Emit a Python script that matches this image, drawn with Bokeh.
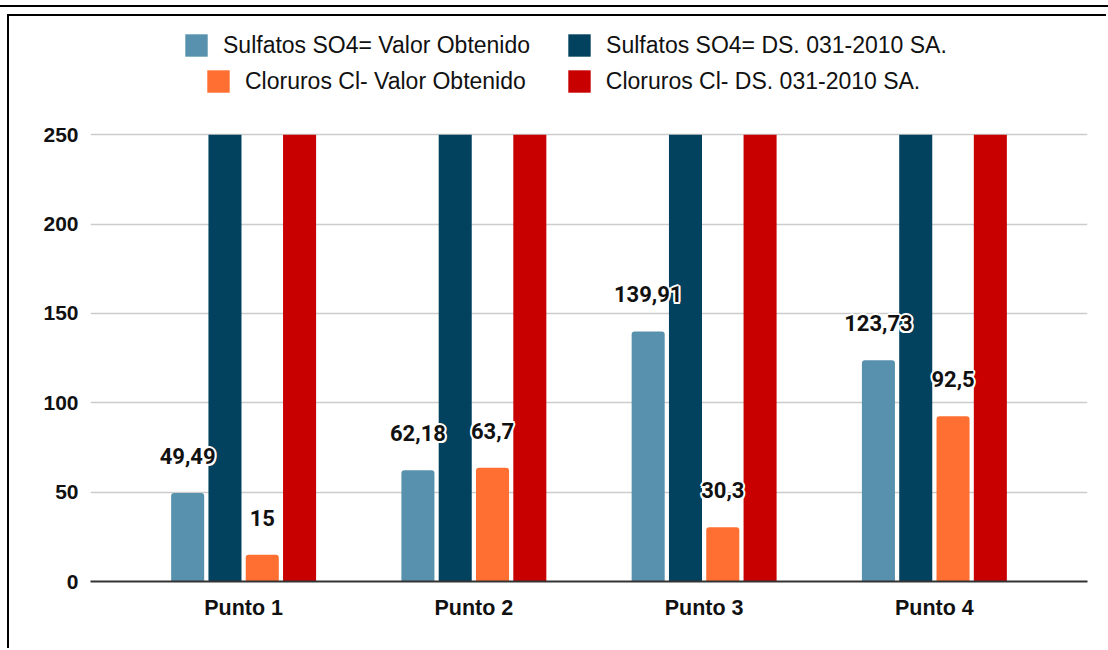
from bokeh.plotting import figure
from bokeh.models import ColumnDataSource, Range1d, Legend, LegendItem, FixedTicker
from bokeh.transform import dodge
from bokeh.core.properties import value
from bokeh.embed import file_html
from bokeh.resources import INLINE

# ---- data ----
categories = ["Punto 1", "Punto 2", "Punto 3", "Punto 4"]
sulfatos_obtenido = [49.49, 62.18, 139.91, 123.73]
sulfatos_ds = [250, 250, 250, 250]
cloruros_obtenido = [15, 63.7, 30.3, 92.5]
cloruros_ds = [250, 250, 250, 250]
series_names = ["Sulfatos SO4= Valor Obtenido", "Sulfatos SO4= DS. 031-2010 SA.",
                "Cloruros Cl- Valor Obtenido", "Cloruros Cl- DS. 031-2010 SA."]
colors = ["#5891ad", "#03425f", "#ff6f31", "#c80000"]
y_ticks = [0, 50, 100, 150, 200, 250]


def fmt(v):
    return f"{v:g}".replace(".", ",")


xs = list(range(len(categories)))
src = ColumnDataSource(dict(
    x=xs,
    s_obt=sulfatos_obtenido, s_ds=sulfatos_ds,
    c_obt=cloruros_obtenido, c_ds=cloruros_ds,
    s_lab=[fmt(v) for v in sulfatos_obtenido],
    c_lab=[fmt(v) for v in cloruros_obtenido],
))

# frame extends above 250 to leave room for the legend rows
p = figure(width=1099, height=634, output_backend="svg", toolbar_location=None,
           x_range=Range1d(-0.665, 3.665), y_range=Range1d(0, 315),
           min_border_left=81, min_border_right=21, min_border_top=2,
           min_border_bottom=69)
p.margin = (14, 0, 0, 7)
p.styles = {"border-top": "2px solid #000", "border-left": "2px solid #000",
            "box-shadow": "0 1px 0 8px #fff, 0 -1px 0 8px #000"}
p.outline_line_color = None
p.background_fill_color = "white"
p.border_fill_color = "white"

pitch = 0.162
bw = 0.1435
fields = ["s_obt", "s_ds", "c_obt", "c_ds"]
offsets = [-1.5 * pitch, -0.5 * pitch, 0.5 * pitch, 1.5 * pitch]
radius = [(3, 3, 0, 0), 0, (3, 3, 0, 0), 0]
renderers = []
for f, off, col, rad in zip(fields, offsets, colors, radius):
    r = p.vbar(x=dodge("x", off, range=p.x_range), top=f, width=bw, source=src,
               fill_color=col, line_color=None, border_radius=rad)
    renderers.append(r)

# data labels: white halo (shifted copies) + dark text
halo = [(-2, 0), (2, 0), (0, -2), (0, 2), (-1.5, -1.5), (1.5, -1.5), (-1.5, 1.5), (1.5, 1.5)]
label_kw = dict(text_font=value("Roboto"), text_font_style="bold", text_font_size="22px",
                text_align="center", text_baseline="middle")
for lab, f, off in [("s_lab", "s_obt", offsets[0]), ("c_lab", "c_obt", offsets[2])]:
    for dx, dy in halo:
        p.text(x=dodge("x", off, range=p.x_range), y=f, text=lab, source=src,
               text_color="white", x_offset=dx, y_offset=-37 + dy, **label_kw)
    p.text(x=dodge("x", off, range=p.x_range), y=f, text=lab, source=src,
           text_color="#111111", y_offset=-37, **label_kw)

# axes
p.xaxis.ticker = FixedTicker(ticks=xs)
p.xaxis.major_label_overrides = {i: c for i, c in enumerate(categories)}
p.xaxis.major_tick_line_color = None
p.xaxis.major_tick_out = 0
p.xaxis.minor_tick_line_color = None
p.xaxis.axis_line_color = "#333333"
p.xaxis.axis_line_width = 2
p.xaxis.major_label_text_font = "Liberation Sans"
p.xaxis.major_label_text_font_style = "bold"
p.xaxis.major_label_text_font_size = "21.5px"
p.xaxis.major_label_text_color = "#111111"
p.xaxis.major_label_standoff = 14

p.yaxis.ticker = FixedTicker(ticks=y_ticks)
p.yaxis.axis_line_color = None
p.yaxis.major_tick_line_color = None
p.yaxis.major_tick_out = 0
p.yaxis.minor_tick_line_color = None
p.yaxis.major_label_text_font = "Liberation Sans"
p.yaxis.major_label_text_font_style = "bold"
p.yaxis.major_label_text_font_size = "21px"
p.yaxis.major_label_text_color = "#111111"
p.yaxis.major_label_standoff = 12

p.xgrid.grid_line_color = None
p.ygrid.ticker = FixedTicker(ticks=y_ticks)
p.ygrid.grid_line_color = "#cccccc"
p.ygrid.grid_line_width = 1.5

# legends (two centered rows)
rows = [[0, 1], [2, 3]]
locs = [(92, 522), (114, 486)]
gaps = [35, 39]
for row, loc, gap in zip(rows, locs, gaps):
    leg = Legend(items=[LegendItem(label=series_names[i], renderers=[renderers[i]]) for i in row],
                 orientation="horizontal", location=loc, padding=0, margin=0,
                 spacing=gap, label_standoff=13, glyph_width=28, glyph_height=28,
                 label_text_font="Liberation Sans", label_text_font_size="23px",
                 label_text_color="#111111", border_line_color=None,
                 background_fill_alpha=0)
    p.add_layout(leg, "center")

open("out.html", "w").write(file_html(p, INLINE))
